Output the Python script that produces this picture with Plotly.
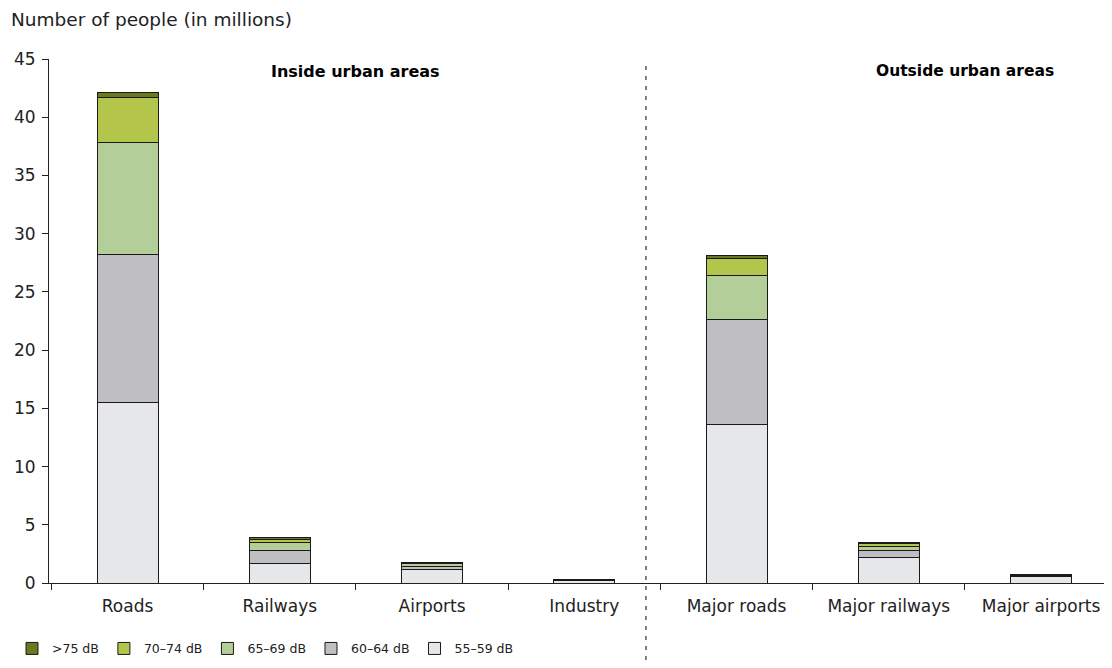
import plotly.graph_objects as go

categories = ["Roads", "Railways", "Airports", "Industry", "Major roads", "Major railways", "Major airports"]
series_names = ["55–59 dB", "60–64 dB", "65–69 dB", "70–74 dB", ">75 dB"]
v_55_59 = [15.5, 1.7, 1.2, 0.2, 13.65, 2.2, 0.55]
v_60_64 = [12.7, 1.1, 0.25, 0.08, 8.95, 0.6, 0.08]
v_65_69 = [9.6, 0.7, 0.2, 0.03, 3.85, 0.35, 0.04]
v_70_74 = [3.9, 0.25, 0.1, 0.02, 1.45, 0.2, 0.02]
v_75 = [0.4, 0.15, 0.05, 0.01, 0.25, 0.15, 0.01]
series_values = [v_55_59, v_60_64, v_65_69, v_70_74, v_75]
colors = ["#E6E7E8", "#BFBFC1", "#B4CE9A", "#B3C64B", "#677A1F"]
y_ticks = [0, 5, 10, 15, 20, 25, 30, 35, 40, 45]

fig = go.Figure()
for name, vals, col in zip(series_names, series_values, colors):
    fig.add_trace(go.Bar(
        x=categories, y=vals, name=name,
        marker=dict(color=col, line=dict(color="#1a1a1a", width=1)),
        width=0.4,
    ))

# page body adds an 8px offset, so the figure is 8px smaller than the window
font_family = "DejaVu Sans, Verdana, sans-serif"
fig.update_layout(
    barmode="stack",
    width=1104, height=660,
    margin=dict(l=41, r=0, t=51, b=85, autoexpand=False),
    paper_bgcolor="white", plot_bgcolor="white",
    font=dict(family=font_family, size=17, color="#222222"),
    showlegend=True,
    legend=dict(
        orientation="h", traceorder="reversed",
        x=-0.0348, xanchor="left", y=-0.097, yanchor="top",
        font=dict(size=12.5, color="#222222"),
    ),
    xaxis=dict(
        type="category", range=[-0.516, 6.466], automargin=False,
        showline=True, linecolor="#222222", linewidth=1,
        ticks="outside", tickson="boundaries", ticklen=6, tickcolor="#222222",
        ticklabelstandoff=8,
        showgrid=False, zeroline=False,
        tickfont=dict(size=17, color="#222222"),
    ),
    yaxis=dict(
        range=[0, 45], tickvals=y_ticks, automargin=False,
        showline=True, linecolor="#222222", linewidth=1,
        ticks="outside", ticklen=6, tickcolor="#222222",
        ticklabelstandoff=3,
        showgrid=False, zeroline=False,
        tickfont=dict(size=17, color="#222222"),
    ),
    annotations=[
        dict(text="Number of people (in millions)", xref="paper", yref="paper",
             x=-40/1063, y=1.0 + 39/524, xanchor="left", yanchor="middle",
             showarrow=False, font=dict(size=18.5, color="#222222")),
        dict(text="<b>Inside urban areas</b>", xref="x", yref="paper",
             x=1.5, y=1.0 - 12/524, xanchor="center", yanchor="middle",
             showarrow=False, font=dict(size=16, color="#000000")),
        dict(text="<b>Outside urban areas</b>", xref="x", yref="paper",
             x=5.5, y=1.0 - 12/524, xanchor="center", yanchor="middle",
             showarrow=False, font=dict(size=15.5, color="#000000")),
    ],
    shapes=[
        dict(type="line", xref="x", yref="paper", x0=3.405, x1=3.405,
             y0=-77/524, y1=1.0 - 2/524,
             line=dict(color="#000000", width=1, dash="4px,6px")),
    ],
)

fig.write_html("out.html")
